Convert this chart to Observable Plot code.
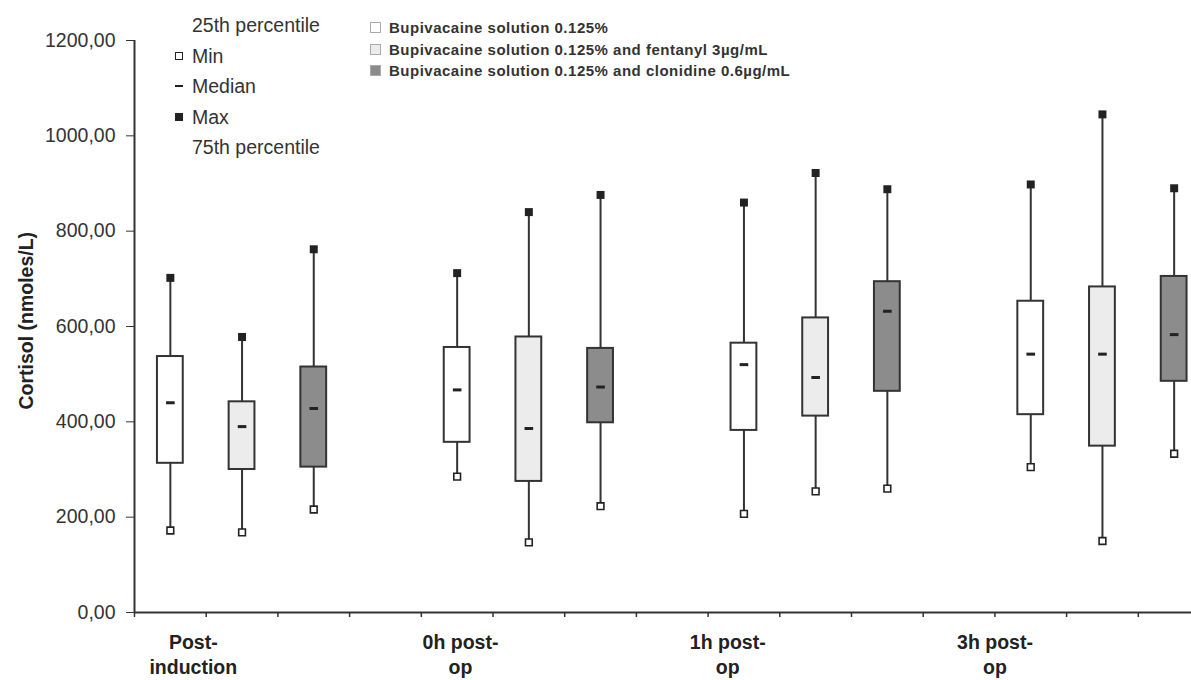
<!DOCTYPE html>
<html><head><meta charset="utf-8">
<script src="https://cdn.jsdelivr.net/npm/d3@7"></script>
<script src="https://cdn.jsdelivr.net/npm/@observablehq/plot@0.6"></script>
<style>
body{margin:0;background:#fff;overflow:hidden;font-family:"Liberation Sans",Arial,sans-serif;}
#wrap{position:relative;width:1191px;height:680px;}
.leg1{position:absolute;left:172px;top:10px;font-size:19.5px;color:#333;line-height:30.5px;}
.leg1 div{display:flex;align-items:center;height:30.5px;}
.leg1 .m{width:20px;display:inline-block;position:relative;height:10px;}
.sq{position:absolute;left:3px;top:1px;width:6px;height:6px;border:1.5px solid #222;background:#fff;}
.fsq{position:absolute;left:3px;top:1px;width:8px;height:8px;background:#222;}
.dash{position:absolute;left:3px;top:4px;width:8px;height:2px;background:#222;}
.leg2{position:absolute;left:370px;top:17px;font-size:15px;letter-spacing:0.5px;font-weight:bold;color:#333;}
.leg2 div{display:flex;align-items:center;height:21.5px;}
.leg2 .b{width:9px;height:9px;border:1px solid #aaa;margin-right:8px;}
</style></head><body><div id="wrap"></div>
<script>
const timepoints = ["Post-\ninduction", "0h post-\nop", "1h post-\nop", "3h post-\nop"];
const groups = ["Bupivacaine solution 0.125%", "Bupivacaine solution 0.125% and fentanyl 3µg/mL", "Bupivacaine solution 0.125% and clonidine 0.6µg/mL"];
const groupFill = ["#ffffff", "#ececec", "#8c8c8c"];
// order: timepoint-major, group-minor
const minVals    = [172, 168, 216,  285, 147, 223,  207, 254, 260,  305, 150, 333];
const q1Vals     = [313, 300, 305,  357, 275, 398,  382, 412, 464,  415, 349, 485];
const medianVals = [440, 390, 428,  467, 386, 473,  520, 493, 632,  542, 542, 583];
const q3Vals     = [537, 442, 515,  556, 578, 554,  565, 618, 694,  653, 683, 705];
const maxVals    = [702, 578, 762,  712, 840, 876,  860, 922, 888,  898, 1045, 890];
const yTicks = [0, 200, 400, 600, 800, 1000, 1200];
const legendStats = ["25th percentile", "Min", "Median", "Max", "75th percentile"];

const rows = [];
timepoints.forEach((t, ti) => groups.forEach((g, gi) => {
  const k = ti * 3 + gi;
  rows.push({t, g: gi, pos: ti * 4 + gi + 0.5, min: minVals[k], q1: q1Vals[k], median: medianVals[k], q3: q3Vals[k], max: maxVals[k]});
}));

const bw = 0.18, mw = 0.06;
const plot = Plot.plot({
  width: 1191, height: 680,
  marginLeft: 134, marginRight: 0, marginTop: 40, marginBottom: 68,
  style: {fontFamily: "'Liberation Sans', Arial, sans-serif", fontSize: "19.5px", color: "#333", background: "#fff"},
  x: {type: "linear", domain: [0, 15], range: [134, 1209.5]},
  y: {domain: [0, 1200]},
  marks: [
    Plot.axisY({ticks: yTicks, tickFormat: d => d3.format(".2f")(d).replace(".", ","), tickSize: 8, tickPadding: 11, label: null, fontSize: 19.5, stroke: "#333"}),
    Plot.axisX({ticks: d3.range(0, 16), tickFormat: () => "", tickSize: 5, label: null, stroke: "#333", strokeWidth: 1.5}),
    Plot.ruleY([0], {stroke: "#333", strokeWidth: 2}),
    Plot.ruleX([0], {y1: 0, y2: 1200, stroke: "#333", strokeWidth: 2}),
    Plot.ruleX(rows, {x: "pos", y1: "min", y2: "max", stroke: "#333", strokeWidth: 2}),
    Plot.rect(rows, {x1: d => d.pos - bw, x2: d => d.pos + bw, y1: "q1", y2: "q3", fill: d => groupFill[d.g], stroke: "#333", strokeWidth: 2}),
    Plot.link(rows, {x1: d => d.pos - mw, x2: d => d.pos + mw, y1: "median", y2: "median", stroke: "#222", strokeWidth: 3}),
    Plot.dot(rows, {x: "pos", y: "min", symbol: "square", r: 3.8, fill: "#fff", stroke: "#222", strokeWidth: 1.6}),
    Plot.dot(rows, {x: "pos", y: "max", symbol: "square", r: 4.5, fill: "#222", stroke: "none"}),
    Plot.text(timepoints, {x: (d, i) => 0.82 + i * 3.727, y: () => 0, dy: 19, lineAnchor: "top", fontWeight: "bold", fontSize: 19.5, lineHeight: 1.28, fill: "#222"}),
    Plot.text(["Cortisol (nmoles/L)"], {x: () => 0, y: () => 612, dx: -108, rotate: -90, fontWeight: "bold", fontSize: 19.5, fill: "#222"})
  ]
});
const wrap = document.getElementById("wrap");
wrap.appendChild(plot);

const leg1 = document.createElement("div");
leg1.className = "leg1";
const markerCls = ["", "sq", "dash", "fsq", ""];
legendStats.forEach((s, i) => {
  const d = document.createElement("div");
  const m = document.createElement("span");
  m.className = "m";
  if (markerCls[i]) { const inner = document.createElement("span"); inner.className = markerCls[i]; m.appendChild(inner); }
  d.appendChild(m);
  d.appendChild(document.createTextNode(s));
  leg1.appendChild(d);
});
wrap.appendChild(leg1);

const leg2 = document.createElement("div");
leg2.className = "leg2";
groups.forEach((g, i) => {
  const d = document.createElement("div");
  const b = document.createElement("span");
  b.className = "b";
  b.style.background = groupFill[i];
  d.appendChild(b);
  d.appendChild(document.createTextNode(g));
  leg2.appendChild(d);
});
wrap.appendChild(leg2);
</script>
</body></html>
